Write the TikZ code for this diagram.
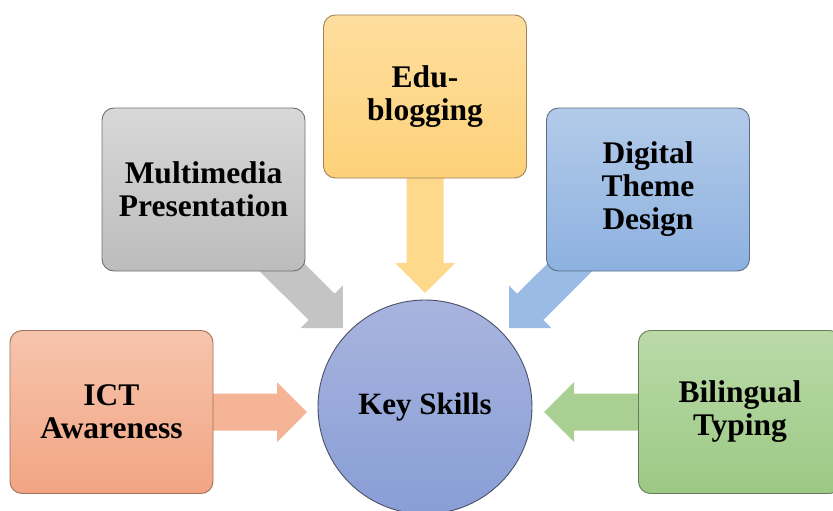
\documentclass[tikz,border=0pt]{standalone}
\usepackage{fontspec}
\setmainfont{Liberation Serif}
\usetikzlibrary{calc,backgrounds}
\definecolor{orT}{HTML}{F6C4AC}\definecolor{orB}{HTML}{F2A584}\definecolor{orA}{HTML}{F5B496}\definecolor{orD}{HTML}{A0705A}
\definecolor{grT}{HTML}{D8D8D8}\definecolor{grB}{HTML}{BCBCBC}\definecolor{grA}{HTML}{C4C4C4}\definecolor{grD}{HTML}{707070}
\definecolor{yeT}{HTML}{FEDE9E}\definecolor{yeB}{HTML}{FDD179}\definecolor{yeA}{HTML}{FED98C}\definecolor{yeD}{HTML}{9C845A}
\definecolor{blT}{HTML}{B3CBE9}\definecolor{blB}{HTML}{8DB1E0}\definecolor{blA}{HTML}{9ABCE4}\definecolor{blD}{HTML}{5E6E86}
\definecolor{gnT}{HTML}{BADAA8}\definecolor{gnB}{HTML}{9BC984}\definecolor{gnA}{HTML}{A9D092}\definecolor{gnD}{HTML}{667A5C}
\definecolor{ciT}{HTML}{A9B4DE}\definecolor{ciB}{HTML}{889ED6}\definecolor{ciD}{HTML}{4A5068}
\tikzset{
  skillbox/.style={rectangle, rounded corners=12pt, minimum width=203pt, minimum height=163pt,
    line width=0.9pt, align=center, font=\fontsize{31.5}{33}\selectfont\bfseries, inner sep=0pt},
  keycircle/.style={circle, minimum size=214pt, line width=0.9pt, font=\fontsize{31}{34}\selectfont\bfseries,
    top color=ciT, bottom color=ciB, draw=ciD},
}
\newcommand{\blockarrow}[3]{%
  \fill[#3] ($(#1)!18.5pt!90:(#2)$) -- ($($(#2)!30pt!(#1)$)!18.5pt!-90:(#1)$)
    -- ($($(#2)!30pt!(#1)$)!30pt!-90:(#1)$) -- (#2)
    -- ($($(#2)!30pt!(#1)$)!30pt!90:(#1)$) -- ($($(#2)!30pt!(#1)$)!18.5pt!90:(#1)$)
    -- ($(#1)!18.5pt!-90:(#2)$) -- cycle;}
\begin{document}
\begin{tikzpicture}[x=1pt,y=-1pt]
\useasboundingbox (0,0) rectangle (833,511);
\node[keycircle] (key) at (425,407) {Key Skills};
\node[skillbox, top color=orT, bottom color=orB, draw=orD] (ict) at (111.5,412) {ICT\\Awareness};
\node[skillbox, top color=grT, bottom color=grB, draw=grD] (mm) at (203.5,189.5) {Multimedia\\Presentation};
\node[skillbox, top color=yeT, bottom color=yeB, draw=yeD] (edu) at (425,96.5) {Edu-\\blogging};
\node[skillbox, top color=blT, bottom color=blB, draw=blD] (dtd) at (648,189.5) {Digital\\Theme\\Design};
\node[skillbox, top color=gnT, bottom color=gnB, draw=gnD] (bil) at (740,412) {Bilingual\\Typing};
\coordinate (tict) at (307,412);
\coordinate (tmm) at (343,328);
\coordinate (tedu) at (425,293);
\coordinate (tdtd) at (509,328);
\coordinate (tbil) at (544,412);
\begin{scope}[on background layer]
\blockarrow{ict.center}{tict}{orA}
\blockarrow{mm.center}{tmm}{grA}
\blockarrow{edu.center}{tedu}{yeA}
\blockarrow{dtd.center}{tdtd}{blA}
\blockarrow{bil.center}{tbil}{gnA}
\end{scope}
\end{tikzpicture}
\end{document}
